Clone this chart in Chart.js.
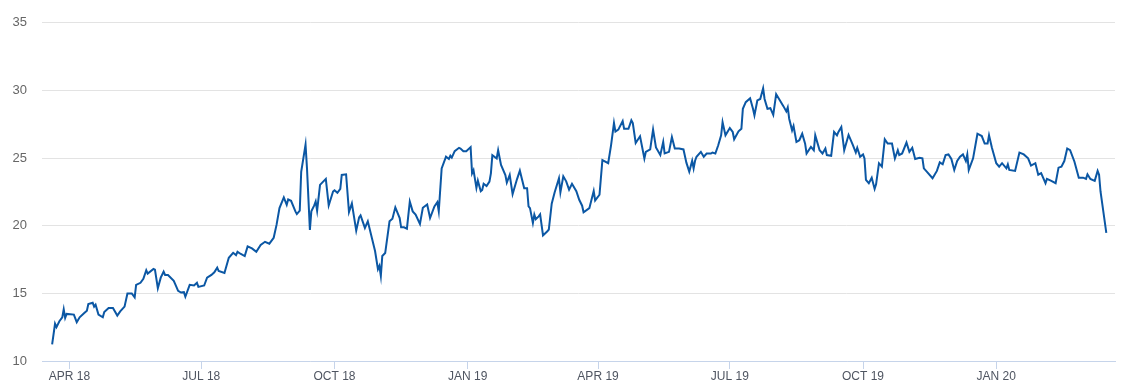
<!DOCTYPE html>
<html>
<head>
<meta charset="utf-8">
<script src="https://cdn.jsdelivr.net/npm/chart.js@4"></script>
<style>
  body { margin: 0; background: #fff; }
  #wrap { width: 1135px; height: 392px; }
</style>
</head>
<body>
<div id="wrap"><canvas id="myChart"></canvas></div>
<script>
// days counted from 1 Apr 2018
var days = [-12,-10,-9,-7,-5,-4,-3,-2,3,5,7,10,12,13,16,17,18,20,23,24,27,30,33,35,38,40,43,45,46,49,
  51,53,54,58,59,61,63,65,66,68,72,73,75,77,79,80,83,86,88,89,93,95,98,100,102,103,107,110,113,115,
  116,118,121,123,126,129,132,135,138,141,143,145,148,150,151,153,156,157,159,160,163,164,166,167,169,170,171,173,177,179,
  182,183,185,187,188,191,193,195,198,200,201,204,206,211,213,214,215,216,218,221,223,225,228,229,231,233,235,237,239,242,
  244,247,249,252,254,255,257,260,262,263,264,266,269,270,272,274,277,278,279,281,282,284,285,286,288,290,291,292,295,296,
  298,301,302,304,306,309,311,314,316,317,318,320,321,322,324,325,327,330,331,333,335,338,339,341,343,345,347,350,352,354,
  355,359,362,363,366,368,372,374,376,377,379,382,383,386,388,389,391,394,397,398,401,403,405,408,410,411,414,416,418,421,
  424,426,428,430,431,432,433,436,438,440,443,444,446,448,450,451,453,456,458,459,462,464,465,467,470,472,473,475,477,479,
  480,482,484,486,488,490,493,495,496,497,499,500,502,504,506,508,509,512,514,515,518,520,522,523,526,528,530,531,533,535,
  538,541,543,544,546,548,549,550,552,554,556,557,559,561,563,565,568,570,572,573,575,578,580,582,584,587,589,590,592,596,
  599,601,603,605,607,609,611,613,615,617,619,620,621,624,626,627,630,632,634,635,637,640,642,644,647,648,649,653,656,659,
  662,664,667,669,671,674,675,678,681,683,685,687,689,691,694,697,700,702,703,705,708,710,711,712,716];

var prices = [11.23,12.75,12.5,12.94,13.23,13.82,13.19,13.48,13.43,12.87,13.23,13.53,13.72,14.21,14.31,14.02,14.16,13.43,13.23,13.62,13.92,13.92,13.36,13.67,14.02,14.99,14.99,14.70,15.63,15.78,
  16.07,16.71,16.46,16.80,16.75,15.38,16.16,16.60,16.36,16.36,15.92,15.68,15.19,15.06,15.09,14.75,15.63,15.58,15.78,15.48,15.58,16.16,16.36,16.56,16.90,16.65,16.51,17.63,18.00,17.83,
  18.07,17.93,17.76,18.47,18.32,18.07,18.57,18.81,18.67,19.11,20.08,21.30,22.09,21.55,21.94,21.84,21.06,20.86,21.11,23.99,25.99,24.24,19.69,21.06,21.50,21.79,21.11,23.02,23.46,21.50,
  22.53,22.62,22.43,22.72,23.75,23.80,21.01,21.65,19.64,20.62,20.77,19.84,20.33,18.13,16.78,17.03,16.29,17.76,17.98,20.33,20.52,21.36,20.57,19.88,19.88,19.78,21.79,21.06,20.82,20.13,
  21.33,21.57,20.57,21.43,21.74,21.06,24.24,25.10,24.93,25.17,25.03,25.51,25.76,25.71,25.51,25.51,25.81,23.87,24.11,22.79,23.33,22.55,22.65,23.10,22.94,23.26,23.87,25.22,24.97,25.58,
  24.49,23.75,23.19,23.75,22.34,23.43,24.07,22.77,22.77,21.43,21.30,20.20,20.82,20.49,20.69,20.84,19.28,19.59,19.72,21.63,22.46,23.51,22.46,23.65,23.28,22.67,23.10,22.55,21.92,21.48,
  20.99,21.30,22.56,21.87,22.29,24.85,24.62,25.96,27.59,26.96,27.10,27.74,27.17,27.17,27.79,27.59,26.12,26.61,24.97,25.46,25.64,27.10,25.78,25.22,26.20,25.34,25.46,26.56,25.71,25.71,
  25.64,24.66,24.00,24.80,24.24,24.80,25.10,25.46,25.10,25.34,25.34,25.41,25.34,25.95,26.68,27.66,26.68,27.22,26.93,26.39,26.98,27.17,28.64,29.13,29.42,28.64,28.16,29.26,29.37,30.16,
  29.37,28.64,28.69,28.20,29.72,29.37,28.84,28.45,28.74,27.91,27.05,27.37,26.19,26.32,26.80,26.07,25.34,25.83,25.58,26.68,25.58,25.34,25.71,25.22,25.17,26.93,26.68,26.93,27.30,25.58,
  26.71,25.95,25.41,25.76,25.10,25.27,24.97,23.39,23.14,23.55,22.72,23.06,24.62,24.37,26.39,26.07,26.07,24.97,25.58,25.22,25.34,26.15,25.46,25.76,24.93,25.03,24.98,24.24,24.00,23.51,
  24.05,24.68,24.54,25.22,25.27,24.93,24.12,24.78,25.10,25.27,24.78,25.27,24.12,24.98,26.19,26.80,26.63,26.07,26.07,26.68,25.76,24.62,24.37,24.62,24.24,24.54,24.12,24.05,25.41,25.27,
  24.98,24.44,24.62,23.77,23.89,23.14,23.46,23.32,23.14,24.29,24.37,24.78,25.71,25.58,24.73,23.55,23.55,23.46,23.80,23.46,23.32,24.05,23.77,22.53,19.47];

var tickDays = [0, 91, 183, 275, 365, 456, 548, 640];
var tickLabels = ['APR 18', 'JUL 18', 'OCT 18', 'JAN 19', 'APR 19', 'JUL 19', 'OCT 19', 'JAN 20'];
var yTicks = [10, 15, 20, 25, 30, 35];

var points = [];
for (var i = 0; i < days.length; i++) {
  points.push({ x: days[i], y: prices[i] });
}

function createChart() {
  var ctx = document.getElementById('myChart').getContext('2d');
  new Chart(ctx, {
    type: 'line',
    data: {
      datasets: [{
        data: points,
        borderColor: '#0b57a4',
        borderWidth: 2,
        pointRadius: 0,
        tension: 0,
        fill: false
      }]
    },
    options: {
      responsive: true,
      maintainAspectRatio: false,
      animation: false,
      layout: { padding: { top: 20, right: 20, left: 0, bottom: 0 } },
      plugins: { legend: { display: false }, tooltip: { enabled: false } },
      scales: {
        x: {
          type: 'linear',
          min: -19,
          max: 722,
          afterBuildTicks: function (scale) {
            scale.ticks = tickDays.map(function (d) { return { value: d }; });
          },
          afterFit: function (scale) { scale.height = 31; },
          border: { display: true, color: '#c6d4ea', width: 1 },
          grid: { display: true, drawOnChartArea: false, drawTicks: true, tickLength: 8, color: '#c6d4ea' },
          ticks: {
            autoSkip: false,
            maxRotation: 0,
            padding: 0,
            color: '#4f5561',
            font: { family: 'Liberation Sans, Arial, sans-serif', size: 12 },
            callback: function (value, index) { return tickLabels[index]; }
          }
        },
        y: {
          min: 10,
          max: 35,
          afterBuildTicks: function (scale) {
            scale.ticks = yTicks.map(function (v) { return { value: v }; });
          },
          afterFit: function (scale) { scale.width = 42; },
          border: { display: false },
          grid: { color: '#e3e3e3', drawTicks: false },
          ticks: {
            padding: 15,
            color: '#666666',
            font: { family: 'Liberation Sans, Arial, sans-serif', size: 13 }
          }
        }
      }
    }
  });
}
createChart();
</script>
</body>
</html>
